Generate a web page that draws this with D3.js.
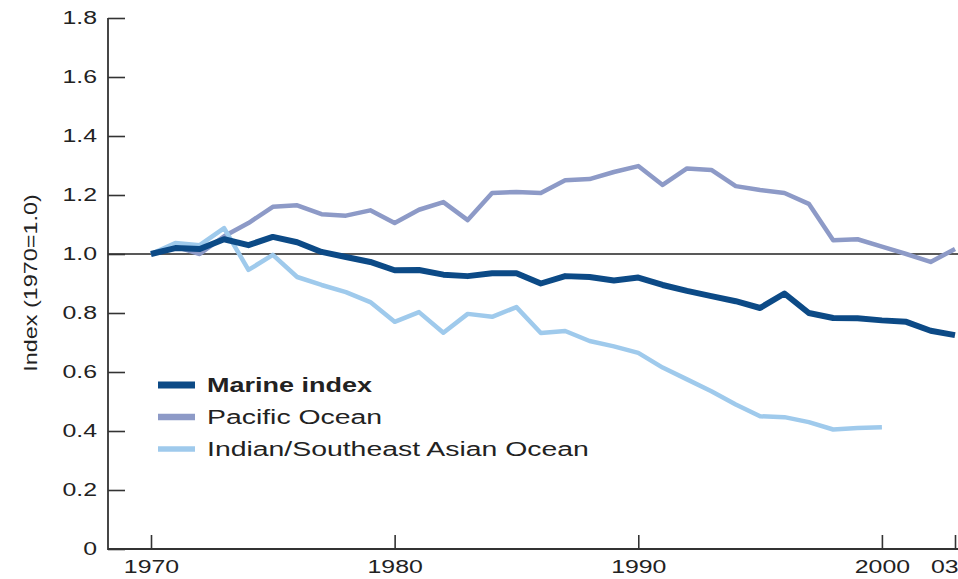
<!DOCTYPE html>
<html>
<head>
<meta charset="utf-8">
<script src="https://cdn.jsdelivr.net/npm/d3@7/dist/d3.min.js"></script>
<style>
  html, body { margin: 0; padding: 0; background: #fff; }
  svg { display: block; font-family: "Liberation Sans", Arial, sans-serif; }
</style>
</head>
<body>
<svg id="chart" width="958" height="579"></svg>
<script>
const years = d3.range(1970, 2004);
const marineIndex = [1.00, 1.02, 1.017, 1.05, 1.03, 1.058, 1.04, 1.007, 0.99, 0.973,
  0.945, 0.946, 0.93, 0.925, 0.935, 0.935, 0.90, 0.925, 0.922, 0.91,
  0.92, 0.895, 0.875, 0.857, 0.84, 0.817, 0.866, 0.80, 0.783, 0.782,
  0.775, 0.77, 0.74, 0.725];
const pacificOcean = [1.00, 1.025, 1.0, 1.06, 1.105, 1.16, 1.165, 1.135, 1.13, 1.148,
  1.105, 1.15, 1.176, 1.115, 1.207, 1.21, 1.207, 1.25, 1.254, 1.278,
  1.298, 1.234, 1.29, 1.285, 1.23, 1.217, 1.207, 1.17, 1.047, 1.05,
  1.025, 1.0, 0.973, 1.017];
const indianOcean = [1.00, 1.037, 1.03, 1.088, 0.946, 0.997, 0.922, 0.895, 0.871, 0.837,
  0.77, 0.803, 0.733, 0.797, 0.787, 0.82, 0.732, 0.739, 0.705, 0.687,
  0.665, 0.615, 0.575, 0.535, 0.49, 0.45, 0.447, 0.43, 0.405, 0.41,
  0.413];
const seriesNames = ["Marine index", "Pacific Ocean", "Indian/Southeast Asian Ocean"];
const seriesColors = ["#0c4a86", "#8d9ac7", "#9fcaec"];
const seriesWidths = [6, 4.5, 4.5];
const legendWidths = [7, 6.5, 5.5];
const yTicks = [0, 0.2, 0.4, 0.6, 0.8, 1.0, 1.2, 1.4, 1.6, 1.8];
const xTicks = [1970, 1980, 1990, 2000, 2003];
const xTickLabels = ["1970", "1980", "1990", "2000", "03"];
const yTitle = "Index (1970=1.0)";

const SX = 1.38; // horizontal text stretch seen in the reference
const svg = d3.select("#chart");
const x = d3.scaleLinear().domain([1970, 2003]).range([151, 955]);
const y = d3.scaleLinear().domain([0, 1.8]).range([549, 18]);
const axisLeftX = 108, axisRightX = 958;

// reference line at 1.0
svg.append("line")
  .attr("x1", axisLeftX).attr("x2", axisRightX)
  .attr("y1", y(1.0)).attr("y2", y(1.0))
  .attr("stroke", "#222").attr("stroke-width", 1.5);

// y axis
const gy = svg.append("g").attr("transform", `translate(${axisLeftX},0)`)
  .call(d3.axisLeft(y).tickValues(yTicks).tickSize(-17).tickSizeOuter(0)
    .tickPadding(11).tickFormat(d => d === 0 ? "0" : d3.format(".1f")(d)));
gy.select(".domain").remove();
gy.selectAll(".tick line").attr("stroke", "#333").attr("stroke-width", 1.6);
gy.selectAll(".tick text")
  .attr("x", -11 / SX)
  .attr("transform", `scale(${SX},1)`)
  .attr("font-size", 18).attr("fill", "#222")
  .attr("font-family", "Liberation Sans, Arial, sans-serif");

// x axis
const gx = svg.append("g").attr("transform", `translate(0,549)`)
  .call(d3.axisBottom(x).tickValues(xTicks).tickSize(-14).tickSizeOuter(0)
    .tickPadding(11).tickFormat((d, i) => xTickLabels[i]));
gx.select(".domain").remove();
gx.selectAll(".tick line").attr("stroke", "#333").attr("stroke-width", 1.6);
gx.selectAll(".tick text")
  .attr("transform", `scale(${SX},1)`)
  .attr("font-size", 18).attr("fill", "#222")
  .attr("font-family", "Liberation Sans, Arial, sans-serif");
gx.selectAll(".tick text").filter(d => d === 2003)
  .attr("text-anchor", "end").attr("x", 3 / SX);

// axis frame lines
svg.append("path")
  .attr("d", `M${axisLeftX},${y(1.8)}V549H${axisRightX}`)
  .attr("fill", "none").attr("stroke", "#333").attr("stroke-width", 1.8);

// y title
svg.append("text")
  .attr("transform", `translate(37,283) rotate(-90) scale(1.3,1)`)
  .attr("text-anchor", "middle")
  .attr("font-size", 18).attr("fill", "#222")
  .text(yTitle);

// lines
const allSeries = [marineIndex, pacificOcean, indianOcean];
const line = d3.line().x((d, i) => x(years[i])).y(d => y(d));
[1, 2, 0].forEach(k => {
  svg.append("path")
    .datum(allSeries[k])
    .attr("d", line)
    .attr("fill", "none")
    .attr("stroke", seriesColors[k])
    .attr("stroke-width", seriesWidths[k])
    .attr("stroke-linejoin", "round");
});

// legend
const legendY = [385, 417, 449];
seriesNames.forEach((name, k) => {
  svg.append("line")
    .attr("x1", 158).attr("x2", 195)
    .attr("y1", legendY[k]).attr("y2", legendY[k])
    .attr("stroke", seriesColors[k]).attr("stroke-width", legendWidths[k]);
  svg.append("text")
    .attr("transform", `translate(207,${legendY[k] + 7}) scale(${k === 0 ? 1.35 : 1.42},1)`)
    .attr("font-size", 20)
    .attr("font-weight", k === 0 ? "bold" : "normal")
    .attr("fill", "#222")
    .text(name);
});
</script>
</body>
</html>
